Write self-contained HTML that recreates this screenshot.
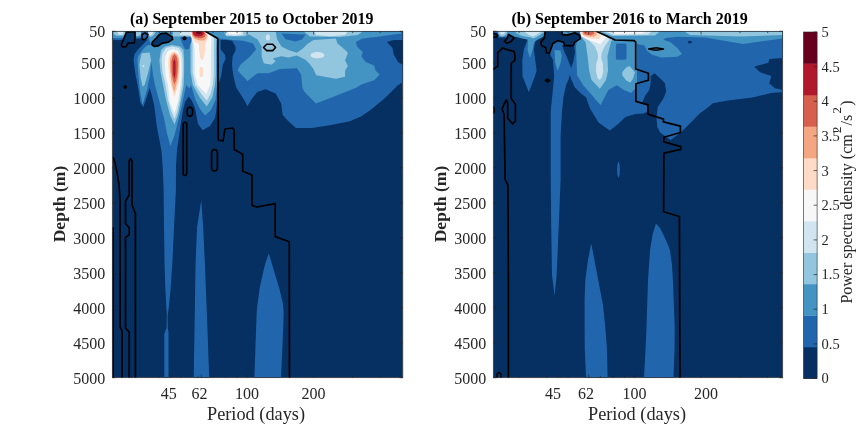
<!DOCTYPE html>
<html lang="en"><head><meta charset="utf-8"><title>Power spectra density</title>
<style>html,body{margin:0;padding:0;background:#fff}body{width:865px;height:425px;overflow:hidden}</style></head>
<body>
<svg width="865" height="425" viewBox="0 0 865 425" style="display:block">
<rect width="865" height="425" fill="#fff"/>
<defs>
</defs>
<clipPath id="ca"><rect x="112.3" y="31.3" width="290.5" height="346.4"/></clipPath>
<g clip-path="url(#ca)">
<rect x="112.3" y="31.3" width="290.5" height="346.4" fill="#053061"/>
<polygon points="112.3,31.3 402.8,31.3 402.8,82.0 397.0,86.0 385.0,98.0 370.5,110.0 361.0,116.6 349.8,121.3 331.0,125.0 312.0,127.9 296.0,127.9 287.6,120.4 282.6,114.7 281.2,103.4 275.6,93.5 265.7,89.3 257.2,92.1 251.6,99.2 247.4,106.2 244.5,100.6 236.0,87.0 233.0,74.0 232.0,64.7 232.6,56.2 235.5,50.6 235.5,46.4 232.0,40.7 226.0,40.0 220.6,40.0 220.6,49.2 224.9,54.8 225.6,59.0 222.8,64.7 221.4,74.6 220.0,80.0 217.5,85.0 217.0,100.0 216.4,110.0 215.0,118.0 210.0,126.0 202.7,130.3 198.0,124.0 196.9,118.0 195.0,108.0 192.0,101.0 188.7,96.5 185.0,102.0 183.0,110.0 180.6,125.0 178.5,140.0 177.0,150.0 176.0,166.0 175.9,190.0 174.0,227.6 172.4,262.0 170.5,290.0 168.5,310.0 167.6,314.0 167.2,316.0 166.5,310.0 165.4,290.0 164.5,262.0 164.0,227.6 163.6,190.0 162.7,166.5 161.5,151.0 156.8,126.2 154.3,106.0 152.0,96.0 149.7,88.0 146.5,98.0 143.2,107.3 140.4,102.4 138.2,88.2 135.4,74.1 133.5,60.0 134.5,54.0 138.2,49.2 141.8,45.6 145.3,42.1 147.5,39.5 141.0,38.5 123.5,39.5 118.0,40.3 112.3,39.5" fill="#2166ac"/>
<polygon points="166.8,313.0 167.6,313.0 167.8,328.0 168.5,332.0 168.5,377.7 164.3,377.7 164.3,334.0 166.5,328.0" fill="#2166ac"/>
<polygon points="201.3,200.4 203.2,227.6 205.0,266.0 207.5,330.0 209.2,377.7 193.7,377.7 194.5,330.0 195.5,266.0 197.0,227.6 200.5,205.0" fill="#2166ac"/>
<polygon points="268.7,253.5 271.8,263.4 275.2,274.7 279.4,288.8 282.8,303.0 283.7,312.0 283.5,320.0 282.5,345.0 281.0,377.7 254.4,377.7 255.5,345.0 256.4,320.0 256.8,310.0 257.7,303.0 259.6,288.8 262.5,274.7 265.3,263.4" fill="#2166ac"/>
<polygon points="386.8,42.1 393.8,40.0 402.8,40.0 402.8,64.7 398.0,61.9 393.8,54.8 392.4,47.8" fill="#053061"/>
<polygon points="112.3,31.3 126.5,31.3 125.2,36.0 124.0,37.8 118.0,38.2 112.3,37.8" fill="#4393c3"/>
<polygon points="148.5,31.3 205.2,31.3 217.8,38.4 217.5,60.0 217.0,85.0 215.5,100.0 211.0,110.0 205.1,115.5 200.0,109.0 195.5,100.0 191.0,85.0 189.5,88.5 186.2,85.0 182.0,105.0 178.8,118.0 174.7,134.4 170.5,146.0 167.2,134.4 164.0,118.0 159.0,100.0 154.9,85.0 153.0,75.0 151.5,62.0 150.0,75.0 147.0,90.0 142.5,105.0 139.8,89.4 138.2,73.0 137.4,60.0 138.2,56.0 143.2,49.2 146.7,45.6 151.4,44.5 150.0,42.0 148.5,38.0 148.5,31.3" fill="#4393c3"/>
<polygon points="135.5,31.3 141.5,31.3 141.5,36.5 139.0,37.4 135.5,37.4" fill="#4393c3"/>
<polygon points="205.2,31.3 402.8,31.3 402.8,33.6 393.8,34.4 379.7,36.5 362.8,38.6 355.7,42.1 357.1,46.4 362.8,52.0 361.4,56.2 365.6,61.9 374.1,65.4 375.5,70.4 379.7,74.6 374.1,80.2 361.4,84.5 355.7,88.0 340.4,94.0 315.9,103.4 304.6,92.1 302.5,88.0 301.1,74.6 296.9,68.2 280.0,69.0 268.7,73.2 257.4,73.2 247.5,81.0 237.6,70.4 240.4,64.7 250.3,56.2 256.0,49.2 253.1,43.5 243.2,40.7 232.0,40.0 221.6,38.4 218.0,38.4" fill="#4393c3"/>
<polygon points="180.0,36.5 192.0,36.5 191.0,42.0 189.0,49.0 185.0,49.5 183.0,45.0 181.0,40.0" fill="#2166ac"/>
<polygon points="281.4,33.6 305.4,34.4 302.5,39.3 295.5,41.4 285.6,39.3" fill="#2166ac"/>
<polygon points="113.5,31.3 126.0,31.3 124.8,34.5 123.0,35.8 117.0,35.8 114.0,34.5" fill="#92c5de"/>
<polygon points="135.5,31.3 141.0,31.3 141.0,35.0 138.0,36.0 135.5,36.0" fill="#92c5de"/>
<polygon points="148.0,31.3 156.0,31.3 154.0,35.0 151.0,37.0 148.0,36.0" fill="#92c5de"/>
<polygon points="141.5,53.2 149.7,52.4 151.0,60.6 148.0,73.0 144.8,84.5 143.2,86.5 142.3,85.3 140.7,77.9 139.3,64.7" fill="#92c5de"/>
<polygon points="172.0,45.0 180.0,46.5 183.5,50.0 184.1,60.0 184.1,72.0 183.7,85.0 181.0,100.0 178.0,115.0 174.5,124.5 170.0,115.0 166.0,100.0 163.1,85.0 160.5,72.0 159.4,60.0 161.0,50.0 165.0,46.5" fill="#92c5de"/>
<polygon points="173.0,31.3 205.5,31.3 216.5,38.0 215.9,50.0 215.9,75.0 215.0,85.0 212.5,97.0 206.8,106.4 200.0,98.0 192.8,85.0 190.5,72.0 190.5,45.0 192.0,40.0 192.0,36.5 173.0,36.5" fill="#92c5de"/>
<polygon points="224.0,31.3 275.7,31.3 277.1,39.3 281.4,46.4 288.4,49.9 296.9,52.7 303.5,48.0 307.0,44.2 313.4,40.0 335.9,38.6 337.4,43.5 344.4,49.2 347.9,52.7 345.1,60.5 347.9,66.1 345.1,70.4 345.1,76.7 335.9,78.8 328.9,77.4 316.2,75.3 313.4,68.9 309.1,63.3 305.4,59.8 296.9,55.5 288.4,57.6 281.4,56.2 272.9,58.4 275.7,61.2 271.5,64.7 263.7,63.3 261.6,56.2 261.6,46.4 257.4,39.3 248.9,34.5 244.5,36.3 226.0,36.3 224.5,33.0" fill="#92c5de"/>
<polygon points="303.5,31.3 362.8,31.3 358.0,35.0 340.0,37.0 310.0,36.5" fill="#92c5de"/>
<polygon points="117.5,31.3 123.5,31.3 123.0,34.0 120.5,35.0 118.0,34.0" fill="#d1e5f0"/>
<polygon points="148.5,31.3 153.5,31.3 152.5,34.5 150.0,35.5 148.5,34.0" fill="#d1e5f0"/>
<polygon points="144.4,66.0 144.1,66.8 143.5,67.2 142.9,66.8 142.6,66.0 142.9,65.2 143.5,64.8 144.1,65.2" fill="#d1e5f0"/>
<polygon points="172.2,46.4 179.0,48.0 182.0,53.0 182.7,60.0 182.7,72.0 182.0,85.0 179.6,100.0 177.0,112.0 174.5,118.8 171.5,112.0 168.0,100.0 165.6,85.0 162.5,72.0 161.5,60.0 162.5,53.0 166.0,48.0" fill="#d1e5f0"/>
<polygon points="180.0,31.3 205.0,31.3 214.0,38.0 213.8,50.0 213.8,75.0 212.8,85.0 210.5,94.0 206.8,100.7 201.5,94.0 195.2,85.0 192.6,72.0 192.6,45.0 191.5,38.0 190.0,35.5 180.0,35.0" fill="#d1e5f0"/>
<polygon points="225.6,31.3 243.2,31.3 243.0,35.0 234.0,36.0 226.0,35.0" fill="#d1e5f0"/>
<polygon points="270.0,37.5 269.6,39.4 268.5,40.5 267.3,40.5 266.2,39.4 265.8,37.5 266.2,35.6 267.3,34.5 268.5,34.5 269.6,35.6" fill="#d1e5f0"/>
<polygon points="324.5,55.2 323.8,56.6 321.9,57.7 319.1,58.3 315.9,58.3 313.1,57.7 311.2,56.6 310.5,55.2 311.2,53.8 313.1,52.7 315.9,52.1 319.1,52.1 321.9,52.7 323.8,53.8" fill="#d1e5f0"/>
<polygon points="314.0,31.3 348.0,31.3 345.0,35.0 330.0,36.2 316.0,35.0" fill="#d1e5f0"/>
<polygon points="173.0,49.2 178.0,51.0 180.5,56.0 181.3,63.0 181.3,75.0 180.4,85.0 178.0,101.5 176.2,108.0 174.3,113.0 172.0,108.0 169.7,101.5 168.0,85.0 165.5,75.0 164.8,63.0 165.5,56.0 168.0,51.0" fill="#f7f7f7"/>
<polygon points="190.5,31.3 204.8,31.3 211.5,37.0 211.2,45.0 210.8,50.0 210.8,74.0 210.2,85.0 206.3,94.0 201.5,89.0 197.7,85.0 194.7,74.0 194.7,50.0 193.5,42.0 191.0,36.0" fill="#f7f7f7"/>
<polygon points="228.0,31.3 241.0,31.3 240.5,33.5 234.0,34.5 228.5,33.5" fill="#f7f7f7"/>
<polygon points="174.0,51.3 177.5,53.5 179.5,58.0 179.9,65.0 179.5,78.0 178.3,85.0 176.0,92.0 174.3,97.4 172.8,92.0 171.0,85.0 169.5,78.0 168.2,65.0 168.5,58.0 170.5,53.5" fill="#fddbc7"/>
<polygon points="191.0,31.3 204.5,31.3 208.0,35.5 207.0,40.0 205.5,43.0 205.2,50.0 204.0,57.0 202.0,61.0 200.0,57.0 199.0,50.0 199.0,44.0 195.0,42.0 192.0,37.0" fill="#fddbc7"/>
<polygon points="203.1,72.0 202.9,74.8 202.2,76.8 201.3,77.5 200.4,76.8 199.7,74.8 199.5,72.0 199.7,69.2 200.4,67.2 201.3,66.5 202.2,67.2 202.9,69.2" fill="#fddbc7"/>
<polygon points="174.3,52.7 177.5,55.0 178.9,60.0 178.9,68.0 178.0,78.0 176.3,85.0 174.3,92.4 172.2,85.0 171.0,78.0 170.0,68.0 170.0,60.0 171.5,55.0" fill="#f4a582"/>
<polygon points="191.5,31.3 204.3,31.3 207.0,35.0 206.5,38.0 204.5,40.5 199.5,40.5 195.0,39.0 192.3,36.0" fill="#f4a582"/>
<polygon points="174.5,54.0 176.8,57.0 177.8,62.0 177.6,72.0 176.2,80.0 174.4,84.5 173.0,80.0 171.6,72.0 171.4,62.0 172.5,57.0" fill="#d6604d"/>
<polygon points="192.0,31.3 204.0,31.3 205.5,34.5 204.5,37.0 202.0,38.3 198.5,38.3 195.0,37.3 192.8,35.0" fill="#d6604d"/>
<polygon points="174.3,58.4 175.6,62.0 175.5,74.0 174.3,78.8 173.2,74.0 173.1,62.0" fill="#b2182b"/>
<polygon points="192.7,31.3 203.6,31.3 204.0,33.5 202.0,36.0 198.5,36.6 195.5,36.0 193.3,34.0" fill="#b2182b"/>
<polygon points="196.0,31.3 201.0,31.3 200.5,33.5 198.5,34.3 196.5,33.5" fill="#67001f"/>
<polygon points="126.6,31.8 124.5,37.0 121.3,45.0 122.7,47.0 126.2,46.7 128.0,43.2 134.3,42.8 135.0,37.2 135.0,31.8" fill="#06356a"/>
<polygon points="160.8,33.6 166.5,33.2 172.1,36.9 172.6,39.3 168.4,42.1 162.7,43.1 158.0,45.9 154.2,46.4 151.9,44.5 152.4,42.1 156.1,38.4 158.9,35.1" fill="#06356a"/>
<polygon points="142.0,34.5 145.0,33.0 148.0,34.5 147.0,37.5 144.0,40.0 142.0,38.5" fill="#2166ac"/>
<path d="M126.6 31.8 L124.5 37.0 L121.3 45.0 L122.7 47.0 L126.2 46.7 L128.0 43.2 L134.3 42.8 L135.0 37.2 L135.0 31.8 Z" fill="none" stroke="#000" stroke-width="1.7" stroke-linejoin="round" stroke-linecap="round"/>
<path d="M160.8 33.6 L166.5 33.2 L172.1 36.9 L172.6 39.3 L168.4 42.1 L162.7 43.1 L158.0 45.9 L154.2 46.4 L151.9 44.5 L152.4 42.1 L156.1 38.4 L158.9 35.1 Z" fill="none" stroke="#000" stroke-width="1.7" stroke-linejoin="round" stroke-linecap="round"/>
<path d="M142.0 34.5 L145.0 33.0 L148.0 34.5 L147.0 37.5 L144.0 40.0 L142.0 38.5 Z" fill="none" stroke="#000" stroke-width="1.6" stroke-linejoin="round" stroke-linecap="round"/>
<path d="M185.7 38.3 L185.3 39.0 L184.5 39.3 L183.7 39.0 L183.3 38.3 L183.7 37.6 L184.5 37.3 L185.3 37.6 Z" fill="none" stroke="#000" stroke-width="2.0" stroke-linejoin="round" stroke-linecap="round"/>
<path d="M126.0 87.1 L125.8 87.7 L125.2 87.9 L124.6 87.7 L124.4 87.1 L124.6 86.5 L125.2 86.3 L125.8 86.5 Z" fill="none" stroke="#000" stroke-width="2.0" stroke-linejoin="round" stroke-linecap="round"/>
<path d="M205.2 31.3 L217.8 38.4 L218.3 140.0 L223.0 141.0 L225.0 129.0 L232.4 128.0 L234.2 130.0 L234.2 149.5 L242.7 154.2 L242.7 171.2 L252.0 175.0 L252.0 205.5 L256.8 207.0 L275.2 203.6 L275.2 236.6 L289.3 241.7 L289.5 377.7" fill="none" stroke="#000" stroke-width="1.7" stroke-linejoin="round" stroke-linecap="round"/>
<path d="M187.2 109.9 L187.6 108.6 L188.5 107.6 L189.9 107.2 L191.2 107.6 L192.2 108.6 L192.6 109.9 L192.6 113.6 L192.2 114.9 L191.2 115.9 L189.9 116.3 L188.5 115.9 L187.6 114.9 L187.2 113.6 Z" fill="none" stroke="#000" stroke-width="1.7" stroke-linejoin="round" stroke-linecap="round"/>
<path d="M183.2 124.0 L183.4 123.2 L184.1 122.5 L184.9 122.3 L185.8 122.5 L186.5 123.2 L186.7 124.0 L186.7 173.6 L186.5 174.4 L185.8 175.1 L184.9 175.3 L184.1 175.1 L183.4 174.4 L183.2 173.6 Z" fill="none" stroke="#000" stroke-width="1.7" stroke-linejoin="round" stroke-linecap="round"/>
<path d="M211.6 152.4 L212.0 151.0 L213.0 149.9 L214.5 149.5 L215.9 149.9 L217.0 151.0 L217.4 152.4 L217.4 168.1 L217.0 169.5 L216.0 170.6 L214.5 171.0 L213.1 170.6 L212.0 169.5 L211.6 168.1 Z" fill="none" stroke="#000" stroke-width="1.7" stroke-linejoin="round" stroke-linecap="round"/>
<path d="M263.5 47.5 L266.7 44.3 L272.7 44.3 L275.6 47.5 L272.7 50.6 L266.7 50.6 Z" fill="none" stroke="#000" stroke-width="1.6" stroke-linejoin="round" stroke-linecap="round"/>
<path d="M113.5 158.0 L115.0 163.0 L117.0 172.0 L119.0 185.0 L120.0 200.0 L120.1 327.0 L122.1 331.0 L122.1 377.7" fill="none" stroke="#000" stroke-width="1.7" stroke-linejoin="round" stroke-linecap="round"/>
<path d="M129.2 377.7 L129.2 332.0 L125.5 328.0 L125.5 237.5 L129.2 234.7 L129.2 227.7 L125.5 223.5 L125.5 201.0 L129.2 195.0 L129.2 161.0 L130.6 158.8 L132.0 161.0 L132.0 205.0 L135.4 213.5 L135.4 377.7" fill="none" stroke="#000" stroke-width="1.7" stroke-linejoin="round" stroke-linecap="round"/>
<path d="M113.2 228.0 L113.2 377.7" fill="none" stroke="#000" stroke-width="1.6" stroke-linejoin="round" stroke-linecap="round"/>
</g>
<clipPath id="cb"><rect x="493.3" y="31.3" width="289.4" height="346.4"/></clipPath>
<g clip-path="url(#cb)">
<rect x="493.3" y="31.3" width="289.4" height="346.4" fill="#053061"/>
<polygon points="493.3,31.3 782.7,31.3 782.7,58.1 769.3,59.1 768.4,62.8 754.2,66.6 759.9,72.2 771.2,76.0 769.3,83.5 775.0,88.2 782.7,90.1 782.7,92.0 771.2,93.0 752.4,97.6 727.9,100.5 712.8,103.3 707.2,108.0 699.6,113.6 692.1,121.2 680.8,132.5 670.5,140.0 660.1,132.5 657.3,126.8 656.4,116.9 657.8,107.1 663.4,98.6 666.2,91.5 664.8,83.1 660.6,78.8 654.5,73.2 650.7,76.0 650.7,83.1 649.3,90.1 645.1,95.8 642.2,102.8 647.9,104.9 647.9,111.3 643.6,113.4 635.2,114.1 625.3,117.0 618.2,124.0 609.8,130.4 598.5,122.6 590.0,108.5 586.0,97.2 580.4,92.9 574.7,87.3 571.5,80.0 569.8,75.0 568.4,80.0 566.2,84.5 563.4,97.2 562.0,111.3 560.6,136.0 560.6,180.0 558.7,227.0 556.6,275.0 554.6,296.0 552.0,275.0 551.2,227.0 550.7,180.0 550.7,111.3 552.1,97.2 554.2,76.0 553.0,60.0 550.0,54.0 549.0,45.0 549.0,36.5 545.0,35.0 543.6,34.4 539.4,37.2 535.2,42.1 533.8,49.2 536.6,70.4 535.0,76.0 528.8,92.2 522.5,76.0 522.3,60.0 523.9,49.2 526.7,42.1 527.4,38.6 521.8,36.5 515.0,37.0 509.0,34.0 506.0,37.5 498.5,37.5 497.5,33.0 493.3,32.5" fill="#2166ac"/>
<polygon points="591.2,243.5 593.5,255.0 598.2,280.0 603.0,305.0 605.3,327.0 607.0,350.0 607.6,377.7 586.0,377.7 584.8,350.0 584.6,327.0 584.6,300.0 585.3,280.0 588.0,260.0" fill="#2166ac"/>
<polygon points="655.9,223.5 660.0,228.0 664.0,236.0 668.0,245.0 670.0,250.6 672.0,265.0 672.9,280.0 674.7,327.0 674.5,350.0 673.5,377.7 644.0,377.7 645.5,350.0 646.5,327.0 648.0,280.0 650.0,250.6 652.5,235.0" fill="#2166ac"/>
<polygon points="619.8,169.6 619.6,174.3 618.9,177.2 618.1,177.2 617.4,174.3 617.2,169.6 617.4,164.9 618.1,162.0 618.9,162.0 619.6,164.9" fill="#2166ac"/>
<polygon points="497.5,31.3 575.0,31.3 575.0,33.0 560.0,34.5 546.0,35.0 541.0,38.0 535.0,41.0 530.0,40.0 522.0,38.5 515.0,36.5 509.0,33.5 507.0,36.0 503.0,37.2 498.5,36.5 497.5,33.0" fill="#4393c3"/>
<polygon points="528.0,37.0 538.0,37.0 534.0,43.0 532.5,50.0 530.0,58.0 527.5,50.0 527.8,43.0" fill="#4393c3"/>
<polygon points="582.0,31.3 782.7,31.3 782.7,38.4 743.0,44.0 705.3,37.4 677.4,36.8 665.6,38.0 663.2,39.8 670.3,42.1 677.4,48.0 682.0,53.9 677.4,56.8 660.9,57.4 651.5,54.5 646.8,50.4 644.4,45.6 637.0,43.9 637.0,84.0 635.2,88.7 630.9,92.9 623.9,90.1 616.8,85.2 608.4,90.1 600.6,105.0 596.0,100.0 590.0,93.0 583.0,85.0 577.0,75.0 576.5,60.0 576.0,46.0 577.0,42.0 581.5,38.0" fill="#4393c3"/>
<polygon points="554.5,50.0 560.5,50.5 561.8,56.0 560.3,64.0 557.5,71.0 555.2,62.0" fill="#4393c3"/>
<polygon points="616.5,43.5 626.0,43.5 626.5,45.0 626.5,58.5 625.5,59.8 616.5,59.8 615.9,58.5 615.9,45.0" fill="#2166ac"/>
<polygon points="692.1,42.1 691.5,43.0 689.9,43.4 688.3,43.0 687.7,42.1 688.3,41.2 689.9,40.8 691.5,41.2" fill="#053061"/>
<polygon points="580.0,31.3 598.0,31.3 613.0,39.0 611.0,42.1 607.4,56.2 608.1,70.4 606.0,80.0 599.9,88.7 591.5,80.0 589.1,70.4 587.6,56.2 585.5,42.1 581.0,37.0" fill="#92c5de"/>
<polygon points="626.2,67.4 629.5,66.1 634.9,72.3 632.8,78.9 630.4,82.6 626.2,80.5 622.5,75.6 622.1,72.3" fill="#92c5de"/>
<polygon points="497.8,31.3 507.6,31.3 506.0,35.0 502.0,36.5 499.0,35.0" fill="#92c5de"/>
<polygon points="514.7,31.3 545.0,31.3 539.4,35.5 533.8,38.6 529.5,37.2 521.8,35.8 516.8,33.6" fill="#92c5de"/>
<polygon points="600.0,31.3 660.0,31.3 655.0,35.5 612.0,36.0" fill="#92c5de"/>
<polygon points="684.0,31.3 782.7,31.3 782.7,35.0 740.0,36.5 690.0,35.0" fill="#92c5de"/>
<polygon points="584.0,31.3 600.0,31.3 609.5,39.5 604.5,46.4 601.5,53.4 601.2,58.0 603.0,64.0 603.3,72.0 601.5,78.0 599.6,80.0 597.6,78.0 596.0,72.0 596.2,64.0 598.0,58.0 597.8,53.4 595.0,46.4 588.0,39.3" fill="#d1e5f0"/>
<polygon points="499.5,31.3 505.5,31.3 504.0,34.0 501.0,34.5" fill="#d1e5f0"/>
<polygon points="524.0,31.3 542.0,31.3 537.0,34.5 533.0,36.5 529.0,35.0 526.0,33.0" fill="#d1e5f0"/>
<polygon points="604.0,31.3 652.0,31.3 648.0,34.5 614.0,35.0" fill="#d1e5f0"/>
<polygon points="579.9,31.3 598.0,31.3 606.7,37.2 603.0,41.0 600.3,44.2 596.0,42.5 588.0,40.0 581.0,36.0" fill="#f7f7f7"/>
<polygon points="610.0,31.3 646.0,31.3 642.0,33.5 616.0,34.0" fill="#f7f7f7"/>
<polygon points="580.6,31.3 597.5,31.3 601.0,36.0 599.0,39.3 592.0,38.8 585.0,37.0 581.5,34.5" fill="#fddbc7"/>
<polygon points="582.0,31.3 596.0,31.3 596.8,34.5 594.0,36.8 588.0,36.5 583.0,34.8" fill="#f4a582"/>
<polygon points="583.4,31.3 594.0,31.3 594.0,33.8 591.0,35.2 586.0,34.8 583.6,33.5" fill="#d6604d"/>
<polygon points="562.0,45.0 574.0,45.0 575.0,52.0 573.5,61.0 571.2,68.0 568.0,60.0 564.5,52.0" fill="#053061"/>
<polygon points="545.1,31.3 544.4,37.9 540.8,42.1 541.5,45.6 545.8,47.8 546.5,52.7 549.3,53.4 552.8,43.5 557.8,40.7 563.4,42.1 564.8,45.6 573.3,45.6 574.7,42.1 580.4,38.6 579.6,35.1 574.7,32.9 566.9,35.1 562.0,34.4 562.0,31.3" fill="#053061"/>
<polygon points="508.4,34.4 514.0,37.9 511.2,41.4 507.0,43.2 504.5,41.4 507.6,37.9" fill="#06356a"/>
<path d="M493.3 33.6 L496.0 34.0 L497.8 35.5 L496.5 37.0 L493.3 37.2" fill="none" stroke="#000" stroke-width="1.7" stroke-linejoin="round" stroke-linecap="round"/>
<path d="M508.4 34.4 L514.0 37.9 L511.2 41.4 L507.0 43.2 L504.5 41.4 L507.6 37.9 Z" fill="none" stroke="#000" stroke-width="1.7" stroke-linejoin="round" stroke-linecap="round"/>
<path d="M493.3 69.3 L497.8 66.1 L497.8 52.7 L502.7 47.8 L505.5 49.2 L514.0 51.3 L515.1 56.2 L514.7 60.5 L511.2 63.3 L511.2 98.6 L515.4 104.2 L515.4 121.2 L512.6 123.8 L507.7 118.4 L507.7 102.8 L506.2 100.0 L502.0 108.5 L504.1 114.5 L505.1 179.5 L507.9 185.2 L508.4 280.0 L508.4 377.7" fill="none" stroke="#000" stroke-width="1.7" stroke-linejoin="round" stroke-linecap="round"/>
<path d="M545.1 31.3 L544.4 37.9 L540.8 42.1 L541.5 45.6 L545.8 47.8 L546.5 52.7 L549.3 53.4 L552.8 43.5 L557.8 40.7 L563.4 42.1 L564.8 45.6 L573.3 45.6 L574.7 42.1 L580.4 38.6 L579.6 35.1 L574.7 32.9 L566.9 35.1 L562.0 34.4 L562.0 31.3" fill="none" stroke="#000" stroke-width="1.7" stroke-linejoin="round" stroke-linecap="round"/>
<path d="M596.8 31.5 L615.2 40.0 L634.2 40.7 L635.7 42.1 L635.7 69.0 L648.4 73.2 L648.4 80.2 L635.9 83.8 L635.9 101.4 L647.9 104.9 L647.9 114.1 L663.4 119.1 L663.4 121.9 L680.4 126.1 L680.4 132.5 L663.9 137.2 L663.9 141.9 L680.8 146.6 L680.8 149.4 L663.9 153.2 L663.6 211.8 L679.4 216.5 L680.0 377.7" fill="none" stroke="#000" stroke-width="1.7" stroke-linejoin="round" stroke-linecap="round"/>
<path d="M648.6 49.0 L656.0 47.7 L663.4 49.0 L656.0 50.3 Z" fill="none" stroke="#000" stroke-width="1.5" stroke-linejoin="round" stroke-linecap="round"/>
<path d="M545.5 80.5 L547.5 79.3 L549.5 80.5 L547.5 81.7 Z" fill="none" stroke="#000" stroke-width="2.0" stroke-linejoin="round" stroke-linecap="round"/>
<path d="M493.6 107.0 L494.3 110.0 L493.6 113.0" fill="none" stroke="#000" stroke-width="1.6" stroke-linejoin="round" stroke-linecap="round"/>
<path d="M497.0 377.7 L497.0 374.0 L499.0 372.3 L501.0 374.0 L501.0 377.7" fill="none" stroke="#000" stroke-width="1.5" stroke-linejoin="round" stroke-linecap="round"/>
</g>
<rect x="112.3" y="31.3" width="290.5" height="346.4" fill="none" stroke="#262626" stroke-width="0.7"/>
<rect x="493.3" y="31.3" width="289.4" height="346.4" fill="none" stroke="#262626" stroke-width="0.7"/>
<path d="M131.6 377.7v-1.8M131.6 31.3v1.8" stroke="#262626" stroke-width="0.7"/>
<path d="M159.3 377.7v-1.8M159.3 31.3v1.8" stroke="#262626" stroke-width="0.7"/>
<path d="M170.6 377.7v-3.2M170.6 31.3v3.2" stroke="#262626" stroke-width="0.7"/>
<path d="M180.7 377.7v-1.8M180.7 31.3v1.8" stroke="#262626" stroke-width="0.7"/>
<path d="M198.2 377.7v-1.8M198.2 31.3v1.8" stroke="#262626" stroke-width="0.7"/>
<path d="M201.3 377.7v-3.2M201.3 31.3v3.2" stroke="#262626" stroke-width="0.7"/>
<path d="M213.0 377.7v-1.8M213.0 31.3v1.8" stroke="#262626" stroke-width="0.7"/>
<path d="M225.8 377.7v-1.8M225.8 31.3v1.8" stroke="#262626" stroke-width="0.7"/>
<path d="M237.1 377.7v-1.8M237.1 31.3v1.8" stroke="#262626" stroke-width="0.7"/>
<path d="M247.2 377.7v-3.2M247.2 31.3v3.2" stroke="#262626" stroke-width="0.7"/>
<path d="M313.7 377.7v-3.2M313.7 31.3v3.2" stroke="#262626" stroke-width="0.7"/>
<path d="M352.6 377.7v-1.8M352.6 31.3v1.8" stroke="#262626" stroke-width="0.7"/>
<path d="M380.3 377.7v-1.8M380.3 31.3v1.8" stroke="#262626" stroke-width="0.7"/>
<path d="M401.7 377.7v-1.8M401.7 31.3v1.8" stroke="#262626" stroke-width="0.7"/>
<path d="M112.3 31.3h3.2M402.8 31.3h-3.2" stroke="#262626" stroke-width="0.7"/>
<path d="M112.3 62.8h3.2M402.8 62.8h-3.2" stroke="#262626" stroke-width="0.7"/>
<path d="M112.3 97.8h3.2M402.8 97.8h-3.2" stroke="#262626" stroke-width="0.7"/>
<path d="M112.3 132.8h3.2M402.8 132.8h-3.2" stroke="#262626" stroke-width="0.7"/>
<path d="M112.3 167.8h3.2M402.8 167.8h-3.2" stroke="#262626" stroke-width="0.7"/>
<path d="M112.3 202.8h3.2M402.8 202.8h-3.2" stroke="#262626" stroke-width="0.7"/>
<path d="M112.3 237.7h3.2M402.8 237.7h-3.2" stroke="#262626" stroke-width="0.7"/>
<path d="M112.3 272.7h3.2M402.8 272.7h-3.2" stroke="#262626" stroke-width="0.7"/>
<path d="M112.3 307.7h3.2M402.8 307.7h-3.2" stroke="#262626" stroke-width="0.7"/>
<path d="M112.3 342.7h3.2M402.8 342.7h-3.2" stroke="#262626" stroke-width="0.7"/>
<path d="M112.3 377.7h3.2M402.8 377.7h-3.2" stroke="#262626" stroke-width="0.7"/>
<path d="M519.0 377.7v-1.8M519.0 31.3v1.8" stroke="#262626" stroke-width="0.7"/>
<path d="M546.7 377.7v-1.8M546.7 31.3v1.8" stroke="#262626" stroke-width="0.7"/>
<path d="M558.0 377.7v-3.2M558.0 31.3v3.2" stroke="#262626" stroke-width="0.7"/>
<path d="M568.1 377.7v-1.8M568.1 31.3v1.8" stroke="#262626" stroke-width="0.7"/>
<path d="M585.6 377.7v-1.8M585.6 31.3v1.8" stroke="#262626" stroke-width="0.7"/>
<path d="M588.7 377.7v-3.2M588.7 31.3v3.2" stroke="#262626" stroke-width="0.7"/>
<path d="M600.4 377.7v-1.8M600.4 31.3v1.8" stroke="#262626" stroke-width="0.7"/>
<path d="M613.2 377.7v-1.8M613.2 31.3v1.8" stroke="#262626" stroke-width="0.7"/>
<path d="M624.5 377.7v-1.8M624.5 31.3v1.8" stroke="#262626" stroke-width="0.7"/>
<path d="M634.6 377.7v-3.2M634.6 31.3v3.2" stroke="#262626" stroke-width="0.7"/>
<path d="M701.1 377.7v-3.2M701.1 31.3v3.2" stroke="#262626" stroke-width="0.7"/>
<path d="M740.0 377.7v-1.8M740.0 31.3v1.8" stroke="#262626" stroke-width="0.7"/>
<path d="M767.7 377.7v-1.8M767.7 31.3v1.8" stroke="#262626" stroke-width="0.7"/>
<path d="M493.3 31.3h3.2M782.7 31.3h-3.2" stroke="#262626" stroke-width="0.7"/>
<path d="M493.3 62.8h3.2M782.7 62.8h-3.2" stroke="#262626" stroke-width="0.7"/>
<path d="M493.3 97.8h3.2M782.7 97.8h-3.2" stroke="#262626" stroke-width="0.7"/>
<path d="M493.3 132.8h3.2M782.7 132.8h-3.2" stroke="#262626" stroke-width="0.7"/>
<path d="M493.3 167.8h3.2M782.7 167.8h-3.2" stroke="#262626" stroke-width="0.7"/>
<path d="M493.3 202.8h3.2M782.7 202.8h-3.2" stroke="#262626" stroke-width="0.7"/>
<path d="M493.3 237.7h3.2M782.7 237.7h-3.2" stroke="#262626" stroke-width="0.7"/>
<path d="M493.3 272.7h3.2M782.7 272.7h-3.2" stroke="#262626" stroke-width="0.7"/>
<path d="M493.3 307.7h3.2M782.7 307.7h-3.2" stroke="#262626" stroke-width="0.7"/>
<path d="M493.3 342.7h3.2M782.7 342.7h-3.2" stroke="#262626" stroke-width="0.7"/>
<path d="M493.3 377.7h3.2M782.7 377.7h-3.2" stroke="#262626" stroke-width="0.7"/>
<rect x="803.5" y="347.00" width="13.6" height="31.80" fill="#053061"/>
<rect x="803.5" y="315.50" width="13.6" height="31.80" fill="#2166ac"/>
<rect x="803.5" y="284.00" width="13.6" height="31.80" fill="#4393c3"/>
<rect x="803.5" y="252.50" width="13.6" height="31.80" fill="#92c5de"/>
<rect x="803.5" y="221.00" width="13.6" height="31.80" fill="#d1e5f0"/>
<rect x="803.5" y="189.50" width="13.6" height="31.80" fill="#f7f7f7"/>
<rect x="803.5" y="158.00" width="13.6" height="31.80" fill="#fddbc7"/>
<rect x="803.5" y="126.50" width="13.6" height="31.80" fill="#f4a582"/>
<rect x="803.5" y="95.00" width="13.6" height="31.80" fill="#d6604d"/>
<rect x="803.5" y="63.50" width="13.6" height="31.80" fill="#b2182b"/>
<rect x="803.5" y="32.00" width="13.6" height="31.80" fill="#67001f"/>
<rect x="803.5" y="32.0" width="13.6" height="346.5" fill="none" stroke="#262626" stroke-width="0.6"/>
<line x1="813.6" x2="817.1" y1="378.5" y2="378.5" stroke="#262626" stroke-width="0.7"/>
<text x="821.5" y="383.4" style="font-family:'Liberation Serif','Times New Roman',serif;font-size:14.5px" fill="#262626">0</text>
<line x1="813.6" x2="817.1" y1="343.9" y2="343.9" stroke="#262626" stroke-width="0.7"/>
<text x="821.5" y="348.8" style="font-family:'Liberation Serif','Times New Roman',serif;font-size:14.5px" fill="#262626">0.5</text>
<line x1="813.6" x2="817.1" y1="309.2" y2="309.2" stroke="#262626" stroke-width="0.7"/>
<text x="821.5" y="314.1" style="font-family:'Liberation Serif','Times New Roman',serif;font-size:14.5px" fill="#262626">1</text>
<line x1="813.6" x2="817.1" y1="274.6" y2="274.6" stroke="#262626" stroke-width="0.7"/>
<text x="821.5" y="279.4" style="font-family:'Liberation Serif','Times New Roman',serif;font-size:14.5px" fill="#262626">1.5</text>
<line x1="813.6" x2="817.1" y1="239.9" y2="239.9" stroke="#262626" stroke-width="0.7"/>
<text x="821.5" y="244.8" style="font-family:'Liberation Serif','Times New Roman',serif;font-size:14.5px" fill="#262626">2</text>
<line x1="813.6" x2="817.1" y1="205.2" y2="205.2" stroke="#262626" stroke-width="0.7"/>
<text x="821.5" y="210.2" style="font-family:'Liberation Serif','Times New Roman',serif;font-size:14.5px" fill="#262626">2.5</text>
<line x1="813.6" x2="817.1" y1="170.6" y2="170.6" stroke="#262626" stroke-width="0.7"/>
<text x="821.5" y="175.5" style="font-family:'Liberation Serif','Times New Roman',serif;font-size:14.5px" fill="#262626">3</text>
<line x1="813.6" x2="817.1" y1="135.9" y2="135.9" stroke="#262626" stroke-width="0.7"/>
<text x="821.5" y="140.8" style="font-family:'Liberation Serif','Times New Roman',serif;font-size:14.5px" fill="#262626">3.5</text>
<line x1="813.6" x2="817.1" y1="101.3" y2="101.3" stroke="#262626" stroke-width="0.7"/>
<text x="821.5" y="106.2" style="font-family:'Liberation Serif','Times New Roman',serif;font-size:14.5px" fill="#262626">4</text>
<line x1="813.6" x2="817.1" y1="66.6" y2="66.6" stroke="#262626" stroke-width="0.7"/>
<text x="821.5" y="71.5" style="font-family:'Liberation Serif','Times New Roman',serif;font-size:14.5px" fill="#262626">4.5</text>
<line x1="813.6" x2="817.1" y1="32.0" y2="32.0" stroke="#262626" stroke-width="0.7"/>
<text x="821.5" y="36.9" style="font-family:'Liberation Serif','Times New Roman',serif;font-size:14.5px" fill="#262626">5</text>
<text transform="translate(851.8,303.6) rotate(-90)" style="font-family:'Liberation Serif','Times New Roman',serif;font-size:16px" fill="#262626">Power spectra density (cm<tspan dx="1.3" dy="-10.6" style="font-size:12.8px">2</tspan><tspan dx="1.2" dy="10.6">/s</tspan><tspan dx="1.3" dy="-10.6" style="font-size:12.8px">2</tspan><tspan dx="1.2" dy="10.6">)</tspan></text>
<text x="251.7" y="24.1" text-anchor="middle" style="font-family:'Liberation Serif','Times New Roman',serif;font-weight:bold;font-size:15.9px">(a) September 2015 to October 2019</text>
<text x="629.6" y="24.1" text-anchor="middle" style="font-family:'Liberation Serif','Times New Roman',serif;font-weight:bold;font-size:16px">(b) September 2016 to March 2019</text>
<text x="105.3" y="36.7" text-anchor="end" style="font-family:'Liberation Serif','Times New Roman',serif;font-size:16px" fill="#262626">50</text>
<text x="486.3" y="36.7" text-anchor="end" style="font-family:'Liberation Serif','Times New Roman',serif;font-size:16px" fill="#262626">50</text>
<text x="105.3" y="69.1" text-anchor="end" style="font-family:'Liberation Serif','Times New Roman',serif;font-size:16px" fill="#262626">500</text>
<text x="486.3" y="69.1" text-anchor="end" style="font-family:'Liberation Serif','Times New Roman',serif;font-size:16px" fill="#262626">500</text>
<text x="105.3" y="104.1" text-anchor="end" style="font-family:'Liberation Serif','Times New Roman',serif;font-size:16px" fill="#262626">1000</text>
<text x="486.3" y="104.1" text-anchor="end" style="font-family:'Liberation Serif','Times New Roman',serif;font-size:16px" fill="#262626">1000</text>
<text x="105.3" y="139.1" text-anchor="end" style="font-family:'Liberation Serif','Times New Roman',serif;font-size:16px" fill="#262626">1500</text>
<text x="486.3" y="139.1" text-anchor="end" style="font-family:'Liberation Serif','Times New Roman',serif;font-size:16px" fill="#262626">1500</text>
<text x="105.3" y="174.1" text-anchor="end" style="font-family:'Liberation Serif','Times New Roman',serif;font-size:16px" fill="#262626">2000</text>
<text x="486.3" y="174.1" text-anchor="end" style="font-family:'Liberation Serif','Times New Roman',serif;font-size:16px" fill="#262626">2000</text>
<text x="105.3" y="209.1" text-anchor="end" style="font-family:'Liberation Serif','Times New Roman',serif;font-size:16px" fill="#262626">2500</text>
<text x="486.3" y="209.1" text-anchor="end" style="font-family:'Liberation Serif','Times New Roman',serif;font-size:16px" fill="#262626">2500</text>
<text x="105.3" y="244.0" text-anchor="end" style="font-family:'Liberation Serif','Times New Roman',serif;font-size:16px" fill="#262626">3000</text>
<text x="486.3" y="244.0" text-anchor="end" style="font-family:'Liberation Serif','Times New Roman',serif;font-size:16px" fill="#262626">3000</text>
<text x="105.3" y="279.0" text-anchor="end" style="font-family:'Liberation Serif','Times New Roman',serif;font-size:16px" fill="#262626">3500</text>
<text x="486.3" y="279.0" text-anchor="end" style="font-family:'Liberation Serif','Times New Roman',serif;font-size:16px" fill="#262626">3500</text>
<text x="105.3" y="314.0" text-anchor="end" style="font-family:'Liberation Serif','Times New Roman',serif;font-size:16px" fill="#262626">4000</text>
<text x="486.3" y="314.0" text-anchor="end" style="font-family:'Liberation Serif','Times New Roman',serif;font-size:16px" fill="#262626">4000</text>
<text x="105.3" y="349.0" text-anchor="end" style="font-family:'Liberation Serif','Times New Roman',serif;font-size:16px" fill="#262626">4500</text>
<text x="486.3" y="349.0" text-anchor="end" style="font-family:'Liberation Serif','Times New Roman',serif;font-size:16px" fill="#262626">4500</text>
<text x="105.3" y="384.0" text-anchor="end" style="font-family:'Liberation Serif','Times New Roman',serif;font-size:16px" fill="#262626">5000</text>
<text x="486.3" y="384.0" text-anchor="end" style="font-family:'Liberation Serif','Times New Roman',serif;font-size:16px" fill="#262626">5000</text>
<text x="168.7" y="398.9" text-anchor="middle" style="font-family:'Liberation Serif','Times New Roman',serif;font-size:16px" fill="#262626">45</text>
<text x="199.4" y="398.9" text-anchor="middle" style="font-family:'Liberation Serif','Times New Roman',serif;font-size:16px" fill="#262626">62</text>
<text x="247.1" y="398.9" text-anchor="middle" style="font-family:'Liberation Serif','Times New Roman',serif;font-size:16px" fill="#262626">100</text>
<text x="313.6" y="398.9" text-anchor="middle" style="font-family:'Liberation Serif','Times New Roman',serif;font-size:16px" fill="#262626">200</text>
<text x="553.0" y="398.9" text-anchor="middle" style="font-family:'Liberation Serif','Times New Roman',serif;font-size:16px" fill="#262626">45</text>
<text x="586.0" y="398.9" text-anchor="middle" style="font-family:'Liberation Serif','Times New Roman',serif;font-size:16px" fill="#262626">62</text>
<text x="634.5" y="398.9" text-anchor="middle" style="font-family:'Liberation Serif','Times New Roman',serif;font-size:16px" fill="#262626">100</text>
<text x="706.0" y="398.9" text-anchor="middle" style="font-family:'Liberation Serif','Times New Roman',serif;font-size:16px" fill="#262626">200</text>
<text x="256" y="419.7" text-anchor="middle" style="font-family:'Liberation Serif','Times New Roman',serif;font-size:18.3px" fill="#262626">Period (days)</text>
<text x="637" y="419.7" text-anchor="middle" style="font-family:'Liberation Serif','Times New Roman',serif;font-size:18.3px" fill="#262626">Period (days)</text>
<text transform="translate(65,204) rotate(-90)" text-anchor="middle" style="font-family:'Liberation Serif','Times New Roman',serif;font-weight:bold;font-size:17.6px" fill="#262626">Depth (m)</text>
<text transform="translate(446,204) rotate(-90)" text-anchor="middle" style="font-family:'Liberation Serif','Times New Roman',serif;font-weight:bold;font-size:17.6px" fill="#262626">Depth (m)</text>
</svg>
</body></html>
